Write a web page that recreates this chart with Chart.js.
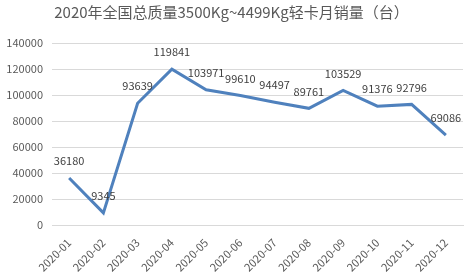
<!DOCTYPE html>
<html lang="zh">
<head>
<meta charset="UTF-8" />
<title>2020年全国总质量3500Kg~4499Kg轻卡月销量</title>
<script src="https://cdn.jsdelivr.net/npm/chart.js"></script>
<style>
  html, body { margin: 0; padding: 0; background: #fff; }
  .wrap { width: 471px; height: 279px; position: relative; }
</style>
</head>
<body>
<div class="wrap"><canvas id="salesChart"></canvas></div>
<script>
  // data
  const months = ["2020-01", "2020-02", "2020-03", "2020-04", "2020-05", "2020-06",
                  "2020-07", "2020-08", "2020-09", "2020-10", "2020-11", "2020-12"];
  const sales = [36180, 9345, 93639, 119841, 103971, 99610, 94497, 89761, 103529, 91376, 92796, 69086];
  const yTicks = [0, 20000, 40000, 60000, 80000, 100000, 120000, 140000];

  const fontFamily = "'Noto Sans CJK SC', 'Noto Sans', sans-serif";

  // value labels above each point
  const valueLabels = {
    id: "valueLabels",
    afterDatasetsDraw(chart) {
      const ctx = chart.ctx;
      const meta = chart.getDatasetMeta(0);
      ctx.save();
      ctx.font = "11px " + fontFamily;
      ctx.fillStyle = "#404040";
      ctx.textAlign = "center";
      ctx.textBaseline = "middle";
      meta.data.forEach((pt, i) => {
        ctx.fillText(String(sales[i]), pt.x, pt.y - 17);
      });
      ctx.restore();
    }
  };

  new Chart(document.getElementById("salesChart"), {
    type: "line",
    data: {
      labels: months,
      datasets: [{
        data: sales,
        borderColor: "#4F81BD",
        borderWidth: 3,
        pointRadius: 0,
        tension: 0,
        fill: false
      }]
    },
    options: {
      responsive: true,
      maintainAspectRatio: false,
      animation: false,
      layout: { padding: { left: 0, right: 8, top: 0, bottom: 2 } },
      plugins: {
        legend: { display: false },
        tooltip: { enabled: false },
        title: {
          display: true,
          text: "2020年全国总质量3500Kg~4499Kg轻卡月销量（台）",
          color: "#595959",
          font: { family: fontFamily, size: 15, weight: "normal" },
          padding: { top: 3, bottom: 22 }
        }
      },
      scales: {
        x: {
          offset: true,
          grid: { display: false },
          border: { color: "#D9D9D9" },
          ticks: {
            color: "#595959",
            font: { family: fontFamily, size: 11 },
            maxRotation: 45,
            minRotation: 45,
            padding: 3
          }
        },
        y: {
          min: 0,
          max: 140000,
          afterBuildTicks(axis) {
            axis.ticks = yTicks.map(v => ({ value: v }));
          },
          afterFit(axis) { axis.width = 52; },
          grid: { color: "#D9D9D9", drawTicks: false },
          border: { display: false },
          ticks: {
            color: "#595959",
            font: { family: fontFamily, size: 11 },
            padding: 9,
            callback: v => String(v)
          }
        }
      }
    },
    plugins: [valueLabels]
  });
</script>
</body>
</html>
